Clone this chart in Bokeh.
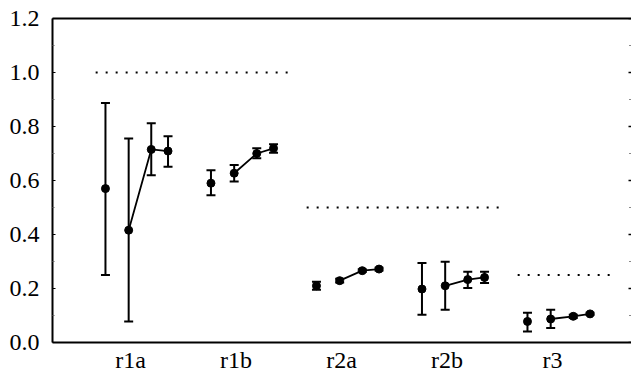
from bokeh.plotting import figure
from bokeh.models import (Range1d, FixedTicker, LinearAxis, Whisker, TeeHead,
                          ColumnDataSource)
from bokeh.embed import file_html
from bokeh.resources import INLINE

# ---- data ----
groups = ["r1a", "r1b", "r2a", "r2b", "r3"]
means = [
    [0.570, 0.416, 0.715, 0.709],
    [0.590, 0.627, 0.700, 0.719],
    [0.210, 0.229, 0.266, 0.272],
    [0.198, 0.210, 0.233, 0.241],
    [0.078, 0.087, 0.097, 0.106],
]
upper = [
    [0.887, 0.756, 0.812, 0.764],
    [0.638, 0.657, 0.719, 0.734],
    [0.225, 0.236, 0.271, 0.277],
    [0.294, 0.299, 0.262, 0.262],
    [0.110, 0.121, 0.103, 0.110],
]
lower = [
    [0.250, 0.078, 0.619, 0.651],
    [0.545, 0.596, 0.682, 0.703],
    [0.195, 0.222, 0.261, 0.267],
    [0.103, 0.121, 0.202, 0.220],
    [0.041, 0.054, 0.091, 0.102],
]
ref_levels = [1.0, 0.5, 0.25]
ref_first_group = [0, 2, 4]
ref_last_group = [1, 3, 4]
y_ticks = [0.0, 0.2, 0.4, 0.6, 0.8, 1.0, 1.2]
y_minor_ticks = [0.1, 0.3, 0.5, 0.7, 0.9, 1.1]
y_tick_labels = ["0.0", "0.2", "0.4", "0.6", "0.8", "1.0", "1.2"]

# ---- style / layout ----
offsets = [-0.237, -0.017, 0.197, 0.356]
FONT = "Liberation Serif"
FS = "24px"
X0, X1 = -0.739, 4.749

p = figure(width=631, height=375, output_backend="svg", toolbar_location=None,
           x_range=Range1d(X0, X1), y_range=Range1d(0, 1.2),
           min_border_left=52, min_border_right=0, min_border_top=18,
           min_border_bottom=0)
p.outline_line_color = None
p.grid.visible = False
p.background_fill_color = "white"
p.border_fill_color = "white"

# reference dotted lines
for lev, g0, g1 in zip(ref_levels, ref_first_group, ref_last_group):
    p.line([g0 - 0.33, g1 + 0.55], [lev, lev], line_color="black",
           line_width=2, line_dash="2 8")

# data points
for gi in range(len(groups)):
    xs = [gi + o for o in offsets]
    src = ColumnDataSource(dict(x=xs, y=means[gi], up=upper[gi], lo=lower[gi]))
    w = Whisker(source=src, base="x", upper="up", lower="lo", dimension="height",
                line_color="black", line_width=2,
                upper_head=TeeHead(size=9, line_color="black", line_width=2),
                lower_head=TeeHead(size=9, line_color="black", line_width=2))
    p.add_layout(w)
    p.line(xs[1:], means[gi][1:], line_color="black", line_width=1.8)
    p.scatter(xs, means[gi], size=8, color="black")

# right-edge inward ticks (frame edge marks)
p.scatter([X1] * len(y_ticks), y_ticks, marker="dash", size=6,
          line_color="black", line_width=1.5)
p.scatter([X1] * len(y_minor_ticks), y_minor_ticks, marker="dash", size=5,
          line_color="#888888", line_width=1)

# axes
xa = p.xaxis[0]
xa.ticker = FixedTicker(ticks=list(range(len(groups))))
xa.major_label_overrides = {i: g for i, g in enumerate(groups)}
xa.major_tick_line_color = None
xa.minor_tick_line_color = None
xa.major_tick_in = 0
xa.major_tick_out = 0
xa.axis_line_width = 2
xa.axis_line_color = "black"
xa.major_label_text_font = FONT
xa.major_label_text_font_size = FS
xa.major_label_text_color = "black"
xa.major_label_standoff = 4

ya = p.yaxis[0]
ya.ticker = FixedTicker(ticks=y_ticks, minor_ticks=y_minor_ticks)
ya.major_label_overrides = {t: l for t, l in zip(y_ticks, y_tick_labels)}
ya.axis_line_width = 2
ya.axis_line_color = "black"
ya.major_tick_in = 3
ya.major_tick_out = 0
ya.minor_tick_in = 2
ya.minor_tick_out = 0
ya.major_tick_line_color = "black"
ya.minor_tick_line_color = "#666666"
ya.major_label_text_font = FONT
ya.major_label_text_font_size = FS
ya.major_label_text_color = "black"
ya.major_label_standoff = 13

top = LinearAxis(ticker=FixedTicker(ticks=[]), axis_line_width=2,
                 axis_line_color="black", major_tick_line_color=None,
                 minor_tick_line_color=None, major_tick_in=0, major_tick_out=0)
p.add_layout(top, "above")

open("out.html", "w").write(file_html(p, INLINE))
